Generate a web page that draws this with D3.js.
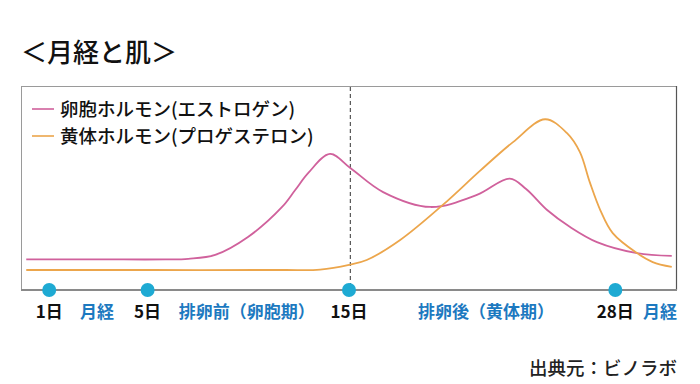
<!DOCTYPE html>
<html><head><meta charset="utf-8">
<script src="https://cdn.jsdelivr.net/npm/d3@7/dist/d3.min.js"></script>
<style>
html,body{margin:0;padding:0;background:#fff;}
svg{display:block;}
text{font-family:"Noto Sans CJK JP","Noto Sans",sans-serif;}
</style></head><body>
<script>
// ---- data (x: position across the cycle box, 0–100; y: hormone level, 0–100) ----
const title = "＜月経と肌＞";
const source = "出典元：ビノラボ";
const seriesNames = ["卵胞ホルモン(エストロゲン)", "黄体ホルモン(プロゲステロン)"];
const estrogenX = [0.8, 12.0, 22.0, 25.5, 29.6, 34.6, 39.8, 41.8, 43.8, 47.1, 50.2, 55.2, 62.4, 69.5, 74.5, 77.0, 80.2, 83.7, 87.8, 93.9, 99.2];
const estrogenY = [15.0, 15.0, 15.0, 15.3, 17.2, 26.0, 40.7, 49.0, 57.4, 66.7, 59.8, 48.0, 40.7, 46.6, 54.6, 49.5, 39.2, 30.9, 23.5, 18.1, 16.7];
const progesteroneX = [0.8, 20.0, 40.0, 45.6, 50.0, 52.7, 57.8, 64.3, 70.0, 75.0, 79.9, 83.2, 85.2, 86.7, 88.3, 90.2, 93.9, 96.3, 99.2];
const progesteroneY = [9.8, 9.8, 9.8, 10.0, 12.3, 14.7, 24.5, 41.7, 58.5, 72.5, 83.7, 77.0, 67.6, 52.9, 39.2, 27.9, 18.1, 13.7, 11.3];
const dayMarkers = ["1日", "5日", "15日", "28日"];
const dayMarkerX = [4.3, 19.3, 50.0, 90.6];
const phaseLabels = ["月経", "排卵前（卵胞期）", "排卵後（黄体期）", "月経"];
const phaseLabelX = [11.6, 34.4, 70.9, 97.4];
const ovulationX = 50.2;

const W = 700, H = 384;
const box = {left: 21, top: 86, right: 677, bottom: 290};
const colors = ["#d0619c", "#eca64c"];

const svg = d3.select("body").append("svg").attr("width", W).attr("height", H);

const x = d3.scaleLinear().domain([0, 100]).range([box.left, box.right]);
const y = d3.scaleLinear().domain([0, 100]).range([box.bottom, box.top]);

// title
svg.append("text").attr("x", 21).attr("y", 62).attr("font-size", 26).attr("font-weight", 500)
  .attr("fill", "#111").text(title);

// box
svg.append("rect").attr("x", box.left + 0.5).attr("y", box.top + 0.5)
  .attr("width", box.right - box.left - 1).attr("height", box.bottom - box.top)
  .attr("fill", "none").attr("stroke", "#9a9a9a").attr("stroke-width", 1);
svg.append("line").attr("x1", box.right - 0.5).attr("x2", box.right - 0.5).attr("y1", box.top).attr("y2", box.bottom)
  .attr("stroke", "#555").attr("stroke-width", 1.2);
svg.append("line").attr("x1", box.left).attr("x2", box.right).attr("y1", box.bottom).attr("y2", box.bottom)
  .attr("stroke", "#8a8a8a").attr("stroke-width", 2);

// ovulation dashed line
svg.append("line").attr("x1", x(ovulationX)).attr("x2", x(ovulationX)).attr("y1", box.top + 1).attr("y2", box.bottom)
  .attr("stroke", "#333").attr("stroke-width", 1).attr("stroke-dasharray", "4,3");

// curves
const line = d3.line().x(d => x(d[0])).y(d => y(d[1])).curve(d3.curveCatmullRom.alpha(0.5));
const series = [d3.zip(estrogenX, estrogenY), d3.zip(progesteroneX, progesteroneY)];
series.forEach((s, i) => {
  svg.append("path").datum(s).attr("d", line).attr("fill", "none")
    .attr("stroke", colors[i]).attr("stroke-width", 1.8);
});

// legend
seriesNames.forEach((n, i) => {
  const ly = 109 + i * 27;
  svg.append("line").attr("x1", 32).attr("x2", 54).attr("y1", ly).attr("y2", ly)
    .attr("stroke", colors[i]).attr("stroke-width", 1.6);
  svg.append("text").attr("x", 60).attr("y", ly).attr("dy", "0.36em")
    .attr("font-size", 18.5).attr("font-weight", 500).attr("fill", "#111").text(n);
});

// day markers
svg.selectAll("circle.day").data(dayMarkerX).enter().append("circle")
  .attr("cx", d => x(d)).attr("cy", box.bottom).attr("r", 7).attr("fill", "#1eaad3");
svg.selectAll("text.day").data(dayMarkers).enter().append("text")
  .attr("x", (d, i) => x(dayMarkerX[i])).attr("y", 318).attr("text-anchor", "middle")
  .attr("font-size", 17).attr("font-weight", "bold").attr("fill", "#111").text(d => d);
svg.selectAll("text.phase").data(phaseLabels).enter().append("text")
  .attr("x", (d, i) => x(phaseLabelX[i])).attr("y", 318).attr("text-anchor", "middle")
  .attr("font-size", 17).attr("font-weight", "bold").attr("fill", "#1c79c0").text(d => d);

// source
svg.append("text").attr("x", 677).attr("y", 375).attr("text-anchor", "end")
  .attr("font-size", 18.5).attr("font-weight", 500).attr("fill", "#222").text(source);
</script>
</body></html>
